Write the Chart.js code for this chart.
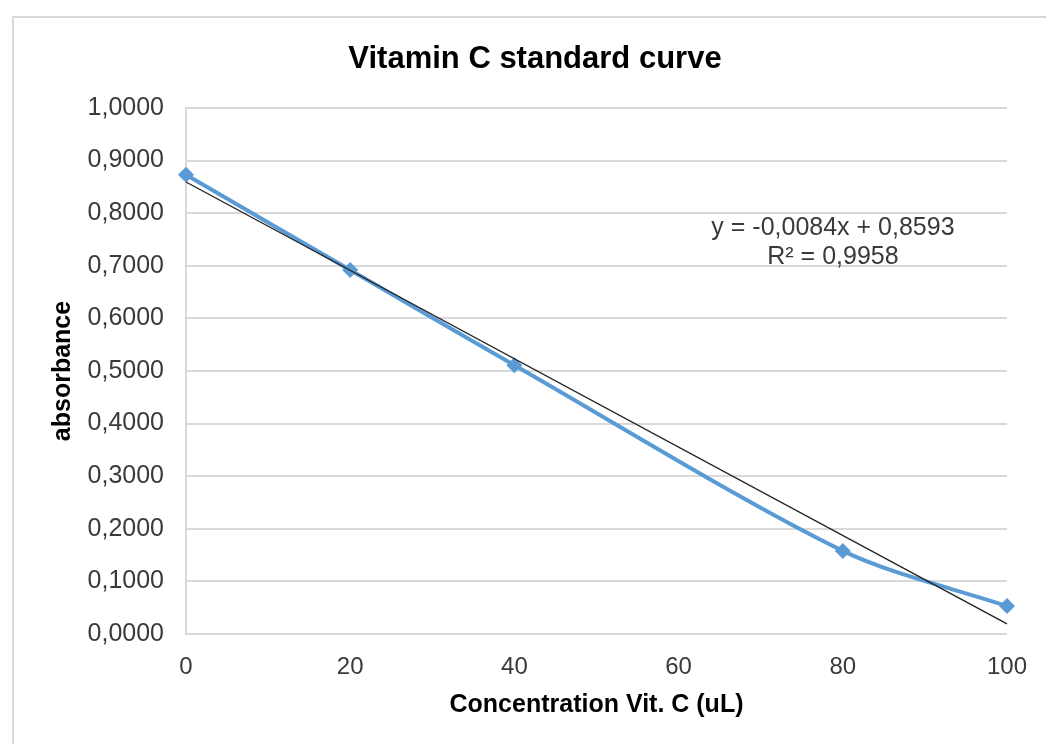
<!DOCTYPE html>
<html>
<head>
<meta charset="utf-8">
<script src="https://cdn.jsdelivr.net/npm/chart.js@4/dist/chart.umd.min.js"></script>
<style>
  html, body { margin: 0; padding: 0; background: #fff; overflow: hidden; }
  #frame { position: absolute; left: 12px; top: 16px; width: 1100px; height: 800px; border: 2px solid #d9d9d9; }
  #wrap { position: absolute; left: 0; top: 0; width: 1046px; height: 744px; }
</style>
</head>
<body>
<div id="frame"></div>
<div id="wrap"><canvas id="chart" width="1046" height="744"></canvas></div>
<script>
  const chartTitle = 'Vitamin C standard curve';
  const xTitle = 'Concentration Vit. C (uL)';
  const yTitle = 'absorbance';

  const concentrations = [0, 20, 40, 80, 100];
  const absorbance = [0.873, 0.692, 0.511, 0.158, 0.053];

  // trendline end points (Excel linear fit)
  const trendX = [0, 100];
  const trendY = [0.8593, 0.0193];
  const equationLines = ['y = -0,0084x + 0,8593', 'R\u00B2 = 0,9958'];

  const fontFamily = '"Liberation Sans", Arial, sans-serif';
  const textColor = '#3a3a3a';
  const gridColor = '#d9d9d9';

  function pairs(xs, ys) {
    return xs.map((x, i) => ({ x, y: ys[i] }));
  }

  function fmt(v) {
    return Number(v).toFixed(4).replace('.', ',');
  }

  const titlePlugin = {
    id: 'customTitle',
    afterDraw(chart) {
      const ctx = chart.ctx;
      ctx.save();
      ctx.fillStyle = '#000';
      ctx.font = 'bold 31px ' + fontFamily;
      ctx.textAlign = 'center';
      ctx.textBaseline = 'middle';
      ctx.fillText(chartTitle, 535, 59);

      // equation label anchored to data coordinates
      const xs = chart.scales.x;
      const ys = chart.scales.y;
      const cx = xs.getPixelForValue(78.8);
      const cy = ys.getPixelForValue(0.772);
      ctx.fillStyle = textColor;
      ctx.font = '25px ' + fontFamily;
      equationLines.forEach((line, i) => ctx.fillText(line, cx, cy + i * 29));
      ctx.restore();
    }
  };

  new Chart(document.getElementById('chart'), {
    type: 'scatter',
    data: {
      datasets: [
        {
          label: 'absorbance',
          data: pairs(concentrations, absorbance),
          showLine: true,
          tension: 0.3,
          clip: false,
          borderColor: '#5b9bd5',
          backgroundColor: '#5b9bd5',
          borderWidth: 4,
          pointStyle: 'rectRot',
          pointRadius: 8,
          pointBorderWidth: 0,
          order: 2
        },
        {
          label: 'trend',
          data: pairs(trendX, trendY),
          showLine: true,
          clip: false,
          borderColor: '#222',
          borderWidth: 1.4,
          pointRadius: 0,
          order: 1
        }
      ]
    },
    options: {
      responsive: false,
      animation: false,
      layout: { padding: { top: 108, right: 39, bottom: 0, left: 0 } },
      plugins: {
        legend: { display: false },
        tooltip: { enabled: false },
        title: { display: false }
      },
      scales: {
        x: {
          type: 'linear',
          min: 0,
          max: 100,
          ticks: { stepSize: 20, padding: 11, color: textColor, font: { size: 24, family: fontFamily } },
          grid: { display: false },
          border: { display: false },
          title: { display: true, text: xTitle, color: '#000', padding: { top: 0, bottom: 24 }, font: { size: 25, weight: 'bold', family: fontFamily } },
          afterFit(scale) { scale.height = 110; }
        },
        y: {
          min: 0,
          max: 1,
          ticks: { stepSize: 0.1, padding: 22, color: textColor, font: { size: 25, family: fontFamily }, callback: (v) => fmt(v) },
          grid: { color: gridColor, lineWidth: 2, drawTicks: false },
          border: { display: true, color: gridColor, width: 2 },
          title: { display: true, text: yTitle, color: '#000', padding: { top: 48, bottom: 0 }, font: { size: 25, weight: 'bold', family: fontFamily } },
          afterFit(scale) { scale.width = 186; }
        }
      }
    },
    plugins: [titlePlugin]
  });
</script>
</body>
</html>
